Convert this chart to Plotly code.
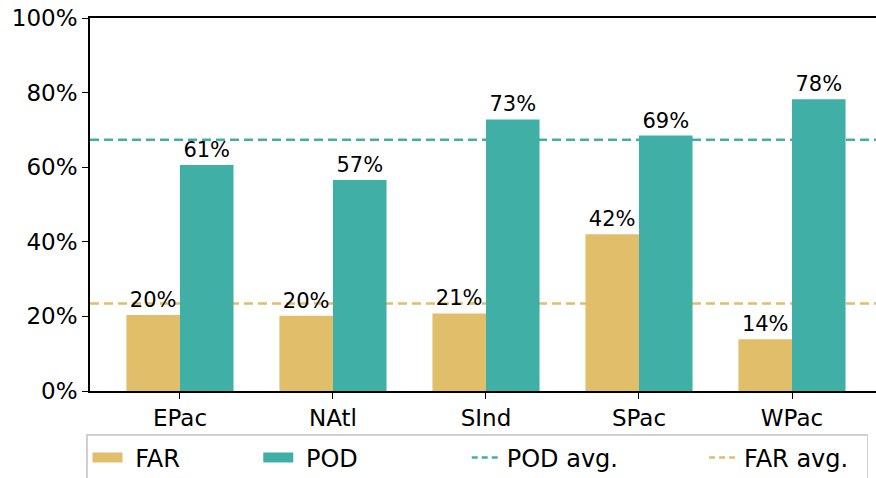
import plotly.graph_objects as go
import numpy as np

categories = ["EPac", "NAtl", "SInd", "SPac", "WPac"]
far_values = [20.4, 20.2, 20.8, 42.0, 13.9]
pod_values = [60.6, 56.6, 72.8, 68.5, 78.2]
y_tick_vals = [0, 20, 40, 60, 80, 100]
y_tick_text = ["0%", "20%", "40%", "60%", "80%", "100%"]

FAR_COLOR = "#E1BE6A"
POD_COLOR = "#40B0A6"
FONT = "DejaVu Sans"
NB = "\u00a0"
TH = "\u2009"

far_avg = float(np.mean(far_values))
pod_avg = float(np.mean(pod_values))
xs = list(range(len(categories)))

fig = go.Figure()
fig.add_trace(go.Bar(
    x=xs, y=far_values, name="FAR", showlegend=False,
    marker=dict(color=FAR_COLOR, line=dict(width=0)),
    texttemplate="%{y:.0f}%", textposition="outside",
    textfont=dict(size=21, color="black", family=FONT), cliponaxis=False,
))
fig.add_trace(go.Bar(
    x=xs, y=pod_values, name="POD", showlegend=False,
    marker=dict(color=POD_COLOR, line=dict(width=0)),
    texttemplate="%{y:.0f}%", textposition="outside",
    textfont=dict(size=21, color="black", family=FONT), cliponaxis=False,
))
# legend entries (patches for bars, dashed lines for averages)
fig.add_trace(go.Scatter(
    x=[None], y=[None], mode="lines", name=NB + "FAR" + NB * 9 + TH,
    line=dict(color=FAR_COLOR, width=10),
))
fig.add_trace(go.Scatter(
    x=[None], y=[None], mode="lines", name=NB + "POD" + NB * 13 + TH,
    line=dict(color=POD_COLOR, width=10),
))
fig.add_trace(go.Scatter(
    x=[None], y=[None], mode="lines", name="POD avg." + NB * 10 + TH,
    line=dict(color=POD_COLOR, dash="6px,4px", width=2.5),
))
fig.add_trace(go.Scatter(
    x=[None], y=[None], mode="lines", name="FAR avg." + NB + TH,
    line=dict(color=FAR_COLOR, dash="6px,4px", width=2.5),
))

for val, col in [(pod_avg, POD_COLOR), (far_avg, FAR_COLOR)]:
    fig.add_shape(type="line", xref="paper", x0=0, x1=1, yref="y", y0=val, y1=val,
                  line=dict(color=col, width=2.5, dash="9px,5px"), layer="below")

fig.update_layout(
    width=876, height=478,
    margin=dict(l=90, r=0, t=18, b=87),
    plot_bgcolor="white", paper_bgcolor="white",
    barmode="group", bargap=0.3, bargroupgap=0,
    font=dict(family=FONT, color="black"),
    showlegend=True,
    legend=dict(
        orientation="h", xref="container", x=86 / 876, xanchor="left",
        yref="container", y=0.092, yanchor="top",
        font=dict(size=24, family=FONT, color="black"),
        bordercolor="#d0d0d0", borderwidth=1.5, bgcolor="white",
        traceorder="normal",
    ),
)
fig.update_xaxes(
    range=[-0.588, 4.549], tickmode="array", tickvals=xs, ticktext=categories,
    showline=True, linecolor="black", linewidth=1.6, mirror=True,
    ticks="outside", ticklen=6, tickwidth=1.4, tickcolor="black",
    tickfont=dict(size=23, family=FONT, color="black"),
    showgrid=False, zeroline=False, fixedrange=True, automargin=False,
)
fig.update_yaxes(
    range=[0, 100], tickmode="array", tickvals=y_tick_vals, ticktext=y_tick_text,
    showline=True, linecolor="black", linewidth=1.6,
    ticks="outside", ticklen=6, tickwidth=1.4, tickcolor="black",
    tickfont=dict(size=23, family=FONT, color="black"),
    showgrid=False, zeroline=False, fixedrange=True, automargin=False,
)

fig.write_html("out.html", config={"displayModeBar": False},
               post_script="document.body.style.margin='0';document.body.style.overflow='hidden';")
